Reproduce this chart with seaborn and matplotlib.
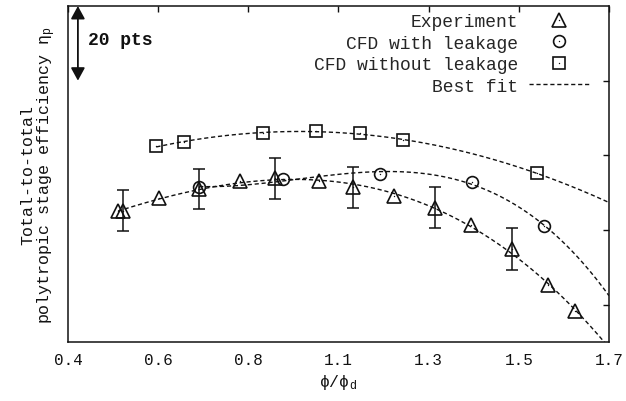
import numpy as np
import matplotlib
matplotlib.use("Agg")
import matplotlib.pyplot as plt
import seaborn as sns
from matplotlib.lines import Line2D
from matplotlib.legend_handler import HandlerTuple

# Experimental efficiency (pts) with measurement uncertainty
exp_x = [0.511, 0.522, 0.602, 0.691, 0.782, 0.860, 0.956, 1.033, 1.124, 1.213, 1.293, 1.384, 1.464, 1.524]
exp_y = [45.1, 45.1, 48.5, 50.9, 53.1, 53.9, 53.1, 51.5, 49.1, 45.9, 41.3, 34.9, 25.3, 18.4]
exp_err = [None, 5.5, None, 5.4, None, 5.5, None, 5.5, None, 5.5, None, 5.5, None, None]

# CFD with tip leakage
leak_x = [0.691, 0.876, 1.093, 1.296, 1.456]
leak_y = [51.5, 53.6, 54.9, 52.8, 41.1]

# CFD without tip leakage
noleak_x = [0.596, 0.658, 0.833, 0.951, 1.047, 1.144, 1.440]
noleak_y = [62.4, 63.5, 66.1, 66.4, 65.9, 64.0, 55.2]

xtick_pos = [0.4, 0.6, 0.8, 1.0, 1.2, 1.4, 1.6]
xtick_labels = ["0.4", "0.6", "0.8", "1.1", "1.3", "1.5", "1.7"]
ytick_pos = [20, 40, 60, 80]

x_limits = (0.4, 1.6)
y_limits = (10, 100)
scale_top, scale_span = 100, 20
fit_degree = 3

sns.set_theme(style="white")
plt.rcParams["font.family"] = ["Liberation Mono", "DejaVu Sans Mono"]
plt.rcParams["mathtext.default"] = "regular"

ink = "#111111"
fig = plt.figure(figsize=(6.26, 4.02), dpi=100)
ax = fig.add_axes([0.1086, 0.1468, 0.8642, 0.8358])

# Best-fit curves (cubic least squares), drawn from the first point to the right edge
for xs, ys in [(exp_x, exp_y), (leak_x, leak_y), (noleak_x, noleak_y)]:
    coef = np.polyfit(xs, ys, fit_degree)
    xf = np.linspace(min(xs), x_limits[1], 300)
    sns.lineplot(x=xf, y=np.polyval(coef, xf), ax=ax, color=ink, lw=1.0,
                 dashes=(3, 2), sort=False, estimator=None)

# Error bars on the experiment
err = np.array([np.nan if e is None else e for e in exp_err])
ax.errorbar(exp_x, exp_y, yerr=err, fmt="none", ecolor=ink, elinewidth=1.1,
            capsize=4.5, capthick=1.1)

marker_style = dict(linestyle="", mfc="none", mec=ink, mew=1.2, color=ink)
dot_style = dict(marker=".", ms=2, linestyle="", mfc=ink, mec=ink, mew=0, color=ink)
series = [(exp_x, exp_y, "^", 9.5), (leak_x, leak_y, "o", 8.5), (noleak_x, noleak_y, "s", 8.5)]
for xs, ys, mk, ms in series:
    sns.lineplot(x=xs, y=ys, ax=ax, marker=mk, ms=ms, sort=False, estimator=None, **marker_style)
    sns.lineplot(x=xs, y=ys, ax=ax, sort=False, estimator=None, **dot_style)

# Scale bar for efficiency points
ax.annotate("", xy=(0.422, scale_top - scale_span), xytext=(0.422, scale_top),
            arrowprops=dict(arrowstyle="<|-|>,head_length=0.55,head_width=0.3",
                            color=ink, lw=1.3, shrinkA=0, shrinkB=0, mutation_scale=14))
ax.text(0.444, scale_top - scale_span * 0.45, f"{scale_span} pts", fontsize=13,
        fontweight="bold", va="center", ha="left", color=ink)

ax.set_xlim(*x_limits)
ax.set_ylim(*y_limits)
ax.set_xticks(xtick_pos)
ax.set_xticklabels(xtick_labels)
ax.set_yticks(ytick_pos)
ax.tick_params(direction="in", length=4, width=1.0, top=True, right=True,
               labelleft=False, labelsize=11.5, pad=7, colors=ink)
for sp in ax.spines.values():
    sp.set_color(ink)
    sp.set_linewidth(1.1)

ax.set_xlabel("ϕ/ϕ$_{d}$", fontsize=12, color=ink, labelpad=4)
ax.set_ylabel("Total-to-total\npolytropic stage efficiency η$_{p}$", fontsize=12,
              color=ink, labelpad=7, linespacing=1.05)

def legend_marker(mk, ms):
    return (Line2D([], [], marker=mk, ms=ms, **marker_style), Line2D([], [], **dot_style))

handles = [legend_marker("^", 9.5), legend_marker("o", 8.5), legend_marker("s", 8.5),
           Line2D([], [], color=ink, lw=1.0, dashes=(3, 2))]
labels = ["Experiment", "CFD with leakage", "CFD without leakage", "Best fit"]
ax.legend(handles, labels, loc="upper right", bbox_to_anchor=(0.976, 1.0),
          markerfirst=False, frameon=False, handlelength=3.3, handletextpad=0.6,
          labelspacing=0.25, borderaxespad=0.0, prop={"size": 13},
          handler_map={tuple: HandlerTuple(ndivide=1, pad=0)})

fig.savefig("out.png", dpi=100)
